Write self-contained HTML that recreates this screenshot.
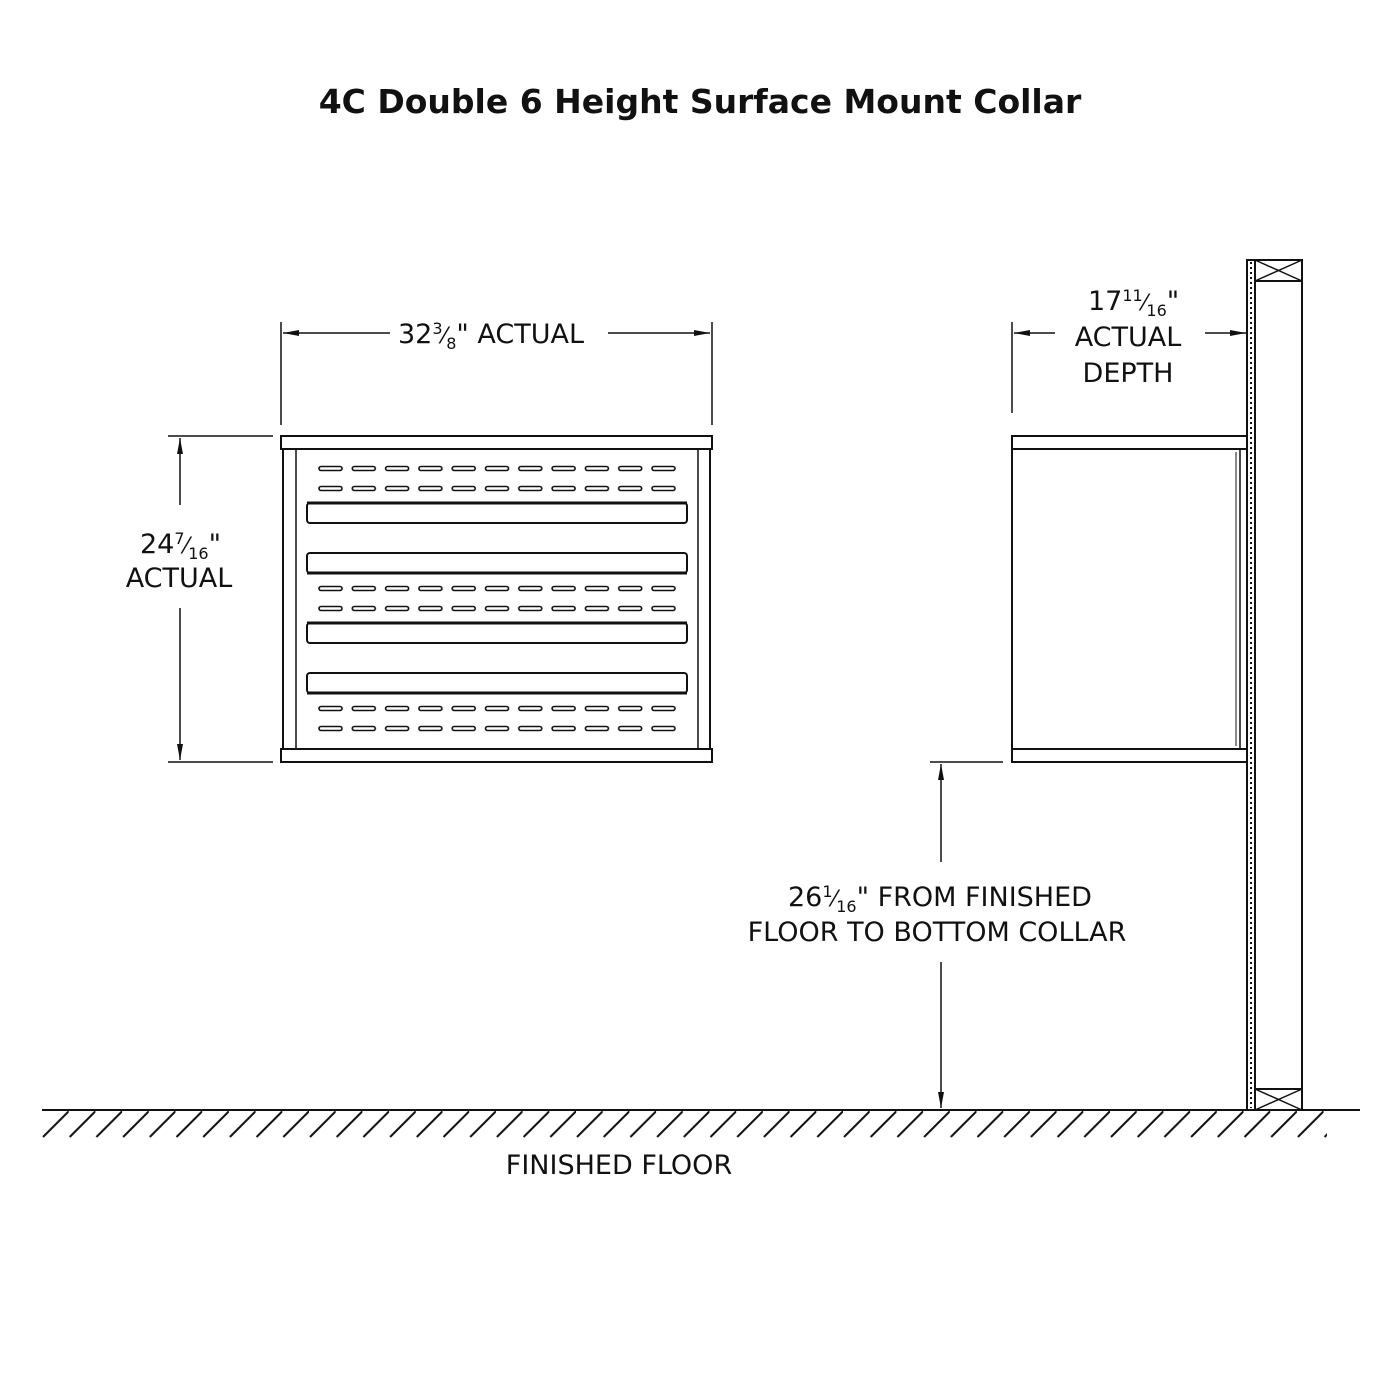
<!DOCTYPE html>
<html><head><meta charset="utf-8"><style>
html,body{margin:0;padding:0;background:#fff;}
svg{display:block}
text{font-family:"DejaVu Sans","Liberation Sans",sans-serif;fill:#111}
</style></head><body>
<svg width="1400" height="1400" viewBox="0 0 1400 1400" xmlns="http://www.w3.org/2000/svg">
<defs>
<pattern id="slots" x="318" y="465" width="33.3" height="20" patternUnits="userSpaceOnUse">
<rect x="1" y="1.5" width="23" height="4" rx="2" fill="none" stroke="#111" stroke-width="1.6"/>
</pattern>
<pattern id="hatch" x="42" y="1110" width="26.7" height="28" patternUnits="userSpaceOnUse">
<line x1="1" y1="27" x2="27" y2="1" stroke="#111" stroke-width="2"/>
</pattern>
<marker id="ar" viewBox="0 0 16 6" refX="16" refY="3" markerWidth="16" markerHeight="6" orient="auto" markerUnits="userSpaceOnUse"><path d="M0,0 L16,3 L0,6 z" fill="#111"/></marker>
</defs>
<text x="700" y="113" text-anchor="middle" font-size="33" font-weight="bold">4C Double 6 Height Surface Mount Collar</text>

<g stroke="#111" fill="none" stroke-width="2">
<line x1="281" y1="322" x2="281" y2="425" stroke-width="1.5"/>
<line x1="712" y1="322" x2="712" y2="425" stroke-width="1.5"/>
<line x1="390" y1="333" x2="283" y2="333" marker-end="url(#ar)" stroke-width="1.5"/>
<line x1="608" y1="333" x2="710" y2="333" marker-end="url(#ar)" stroke-width="1.5"/>
<line x1="168" y1="436" x2="273" y2="436" stroke-width="1.5"/>
<line x1="168" y1="762" x2="273" y2="762" stroke-width="1.5"/>
<line x1="180" y1="505" x2="180" y2="438" marker-end="url(#ar)" stroke-width="1.5"/>
<line x1="180" y1="608" x2="180" y2="760" marker-end="url(#ar)" stroke-width="1.5"/>
<rect x="281" y="436" width="431" height="13"/>
<rect x="281" y="749" width="431" height="13"/>
<line x1="283" y1="449" x2="283" y2="749"/>
<line x1="710" y1="449" x2="710" y2="749"/>
<line x1="296" y1="449" x2="296" y2="749" stroke-width="1.5"/>
<line x1="698" y1="449" x2="698" y2="749" stroke-width="1.5"/>
<rect x="307" y="503" width="380" height="20" rx="3"/>
<line x1="307" y1="503" x2="687" y2="503" stroke-width="3"/>
<rect x="307" y="553" width="380" height="20" rx="3"/>
<line x1="307" y1="573" x2="687" y2="573" stroke-width="3"/>
<rect x="307" y="623" width="380" height="20" rx="3"/>
<line x1="307" y1="623" x2="687" y2="623" stroke-width="3"/>
<rect x="307" y="673" width="380" height="20" rx="3"/>
<line x1="307" y1="693" x2="687" y2="693" stroke-width="3"/>
</g>
<rect x="318" y="465" width="366" height="40" fill="url(#slots)"/>
<rect x="318" y="585" width="366" height="40" fill="url(#slots)"/>
<rect x="318" y="705" width="366" height="40" fill="url(#slots)"/>

<g stroke="#111" fill="none" stroke-width="2">
<line x1="1012" y1="322" x2="1012" y2="413" stroke-width="1.5"/>
<line x1="1055" y1="333" x2="1014" y2="333" marker-end="url(#ar)" stroke-width="1.5"/>
<line x1="1205" y1="333" x2="1246" y2="333" marker-end="url(#ar)" stroke-width="1.5"/>
<rect x="1012" y="436" width="235" height="13"/>
<rect x="1012" y="749" width="235" height="13"/>
<line x1="1012" y1="449" x2="1012" y2="749"/>
<line x1="1240" y1="449" x2="1240" y2="749" stroke-width="1.5"/>
<line x1="1236" y1="452" x2="1236" y2="746" stroke-width="1"/>
<rect x="1247" y="260" width="8" height="850" stroke-width="2"/>
<line x1="1251" y1="262" x2="1251" y2="1108" stroke-width="2" stroke-dasharray="2 3"/>
<rect x="1255" y="260" width="47" height="850" stroke-width="2"/>
<line x1="1255" y1="281" x2="1302" y2="281"/>
<line x1="1255" y1="260" x2="1302" y2="281" stroke-width="1.5"/>
<line x1="1302" y1="260" x2="1255" y2="281" stroke-width="1.5"/>
<line x1="1255" y1="1089" x2="1302" y2="1089"/>
<line x1="1255" y1="1089" x2="1302" y2="1110" stroke-width="1.5"/>
<line x1="1302" y1="1089" x2="1255" y2="1110" stroke-width="1.5"/>
<line x1="930" y1="762" x2="1003" y2="762" stroke-width="1.5"/>
<line x1="941" y1="862" x2="941" y2="764" marker-end="url(#ar)" stroke-width="1.5"/>
<line x1="941" y1="962" x2="941" y2="1108" marker-end="url(#ar)" stroke-width="1.5"/>
<line x1="42" y1="1110" x2="1360" y2="1110"/>
</g>
<rect x="42" y="1110" width="1285" height="28" fill="url(#hatch)"/>

<g font-size="27">
<text x="398" y="343">32<tspan font-size="16" dy="-9">3</tspan><tspan font-size="22" dy="9">⁄</tspan><tspan font-size="16" dy="6">8</tspan><tspan dy="-6">" ACTUAL</tspan></text>
<text x="140" y="553">24<tspan font-size="16" dy="-9">7</tspan><tspan font-size="22" dy="9">⁄</tspan><tspan font-size="16" dy="6">16</tspan><tspan dy="-6">"</tspan></text>
<text x="179" y="587" text-anchor="middle">ACTUAL</text>
<text x="1088" y="310">17<tspan font-size="16" dy="-9">11</tspan><tspan font-size="22" dy="9">⁄</tspan><tspan font-size="16" dy="6">16</tspan><tspan dy="-6">"</tspan></text>
<text x="1128" y="346" text-anchor="middle">ACTUAL</text>
<text x="1128" y="382" text-anchor="middle">DEPTH</text>
<text x="788" y="906">26<tspan font-size="16" dy="-9">1</tspan><tspan font-size="22" dy="9">⁄</tspan><tspan font-size="16" dy="6">16</tspan><tspan dy="-6">"  FROM FINISHED</tspan></text>
<text x="937" y="941" text-anchor="middle">FLOOR TO BOTTOM COLLAR</text>
<text x="619" y="1174" text-anchor="middle">FINISHED FLOOR</text>
</g>
</svg>
</body></html>
